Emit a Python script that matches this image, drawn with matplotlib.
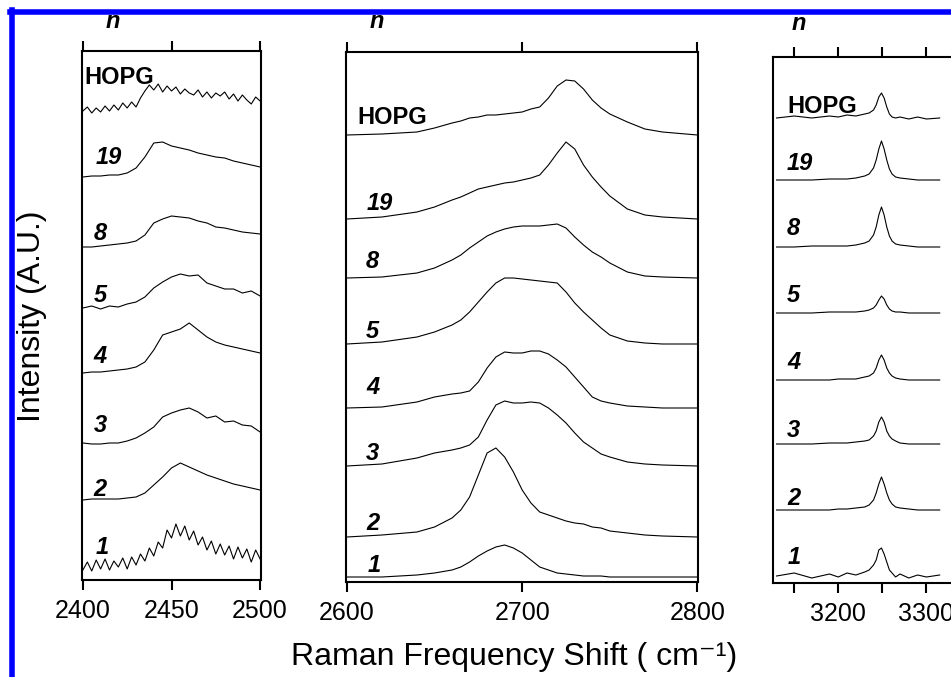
import numpy as np
import matplotlib
matplotlib.use("Agg")
import matplotlib.pyplot as plt
from matplotlib.lines import Line2D

plt.rcParams['font.family'] = ['Liberation Sans', 'DejaVu Sans']

W, H = 951, 677

# sample names, top to bottom
names = ['HOPG', '19', '8', '5', '4', '3', '2', '1']

# ---- panel 1 : 2400-2500 cm-1 ----
x1 = [2400, 2405, 2410, 2415, 2420, 2425, 2430, 2435, 2440, 2445, 2450,
      2455, 2460, 2465, 2470, 2475, 2480, 2485, 2490, 2495, 2500]
# the two noisiest traces are read on a finer step
x1_fine = [2400, 2402.5, 2405, 2407.5, 2410, 2412.5, 2415, 2417.5, 2420, 2422.5,
           2425, 2427.5, 2430, 2432.5, 2435, 2437.5, 2440, 2442.5, 2445, 2447.5,
           2450, 2452.5, 2455, 2457.5, 2460, 2462.5, 2465, 2467.5, 2470, 2472.5,
           2475, 2477.5, 2480, 2482.5, 2485, 2487.5, 2490, 2492.5, 2495, 2497.5, 2500]
p1 = {
    'HOPG': [4.89, 4.93, 4.87, 4.92, 4.88, 4.94, 4.89, 4.95, 4.90, 4.97, 4.92,
             4.98, 4.93, 5.02, 5.09, 5.15, 5.10, 5.16, 5.08, 5.14, 5.09, 5.13,
             5.06, 5.11, 5.07, 5.05, 5.10, 5.03, 5.08, 5.02, 5.07, 5.04, 5.08,
             5.01, 5.06, 4.99, 5.05, 5.00, 4.96, 5.03, 4.99],
    '19': [4.23, 4.24, 4.24, 4.25, 4.25, 4.27, 4.32, 4.43, 4.57, 4.58, 4.54,
           4.52, 4.50, 4.47, 4.45, 4.43, 4.42, 4.39, 4.37, 4.35, 4.33],
    '8': [3.53, 3.53, 3.54, 3.55, 3.56, 3.57, 3.59, 3.65, 3.77, 3.81, 3.84,
          3.83, 3.82, 3.79, 3.77, 3.73, 3.72, 3.70, 3.68, 3.67, 3.66],
    '5': [2.92, 2.94, 2.91, 2.94, 2.93, 2.96, 2.98, 3.03, 3.12, 3.18, 3.23,
          3.26, 3.24, 3.25, 3.17, 3.14, 3.11, 3.11, 3.07, 3.09, 3.04],
    '4': [2.27, 2.28, 2.28, 2.29, 2.30, 2.31, 2.33, 2.38, 2.50, 2.65, 2.68,
          2.71, 2.77, 2.70, 2.63, 2.58, 2.55, 2.53, 2.51, 2.49, 2.47],
    '3': [1.57, 1.56, 1.56, 1.57, 1.57, 1.59, 1.62, 1.67, 1.73, 1.83, 1.87,
          1.90, 1.92, 1.88, 1.82, 1.84, 1.78, 1.79, 1.75, 1.74, 1.68],
    '2': [1.00, 1.01, 1.01, 1.01, 1.01, 1.02, 1.03, 1.07, 1.15, 1.23, 1.32,
          1.37, 1.33, 1.29, 1.25, 1.22, 1.19, 1.16, 1.14, 1.12, 1.10],
    '1': [0.30, 0.38, 0.29, 0.40, 0.31, 0.41, 0.30, 0.39, 0.33, 0.42, 0.31,
          0.43, 0.35, 0.46, 0.39, 0.52, 0.44, 0.58, 0.52, 0.70, 0.62, 0.76,
          0.64, 0.74, 0.60, 0.69, 0.55, 0.63, 0.50, 0.59, 0.46, 0.56, 0.45,
          0.54, 0.41, 0.53, 0.42, 0.51, 0.38, 0.50, 0.41],
}
lab1_x = [2401, 2407, 2406, 2406, 2406, 2406, 2406, 2407]
lab1_y = [5.22, 4.43, 3.67, 3.05, 2.43, 1.74, 1.10, 0.53]

# ---- panel 2 : 2600-2800 cm-1 ----
x2 = [2600, 2620, 2640, 2650, 2660, 2665, 2670, 2675, 2680, 2685, 2690,
      2695, 2700, 2705, 2710, 2715, 2720, 2725, 2730, 2735, 2740, 2745,
      2750, 2760, 2770, 2780, 2800]
p2 = {
    'HOPG': [4.65, 4.66, 4.68, 4.72, 4.77, 4.79, 4.82, 4.83, 4.85, 4.85, 4.86,
             4.87, 4.88, 4.91, 4.93, 5.02, 5.14, 5.20, 5.19, 5.11, 5.00, 4.92,
             4.86, 4.78, 4.71, 4.68, 4.65],
    '19': [3.81, 3.83, 3.88, 3.93, 4.00, 4.03, 4.07, 4.11, 4.13, 4.15, 4.17,
           4.18, 4.20, 4.22, 4.25, 4.35, 4.47, 4.58, 4.51, 4.35, 4.23, 4.13,
           4.04, 3.91, 3.85, 3.83, 3.81],
    '8': [3.22, 3.23, 3.27, 3.32, 3.40, 3.45, 3.52, 3.58, 3.64, 3.68, 3.71,
          3.73, 3.74, 3.74, 3.74, 3.75, 3.76, 3.72, 3.63, 3.55, 3.48, 3.43,
          3.37, 3.28, 3.24, 3.23, 3.22],
    '5': [2.56, 2.58, 2.63, 2.68, 2.75, 2.80, 2.88, 2.98, 3.08, 3.17, 3.22,
          3.22, 3.21, 3.20, 3.19, 3.18, 3.17, 3.08, 2.97, 2.88, 2.80, 2.72,
          2.65, 2.59, 2.57, 2.56, 2.56],
    '4': [1.92, 1.93, 1.98, 2.03, 2.06, 2.07, 2.09, 2.18, 2.32, 2.43, 2.48,
          2.47, 2.47, 2.49, 2.49, 2.46, 2.40, 2.33, 2.23, 2.13, 2.03, 1.99,
          1.97, 1.94, 1.93, 1.92, 1.92],
    '3': [1.34, 1.36, 1.42, 1.47, 1.50, 1.52, 1.55, 1.63, 1.80, 1.95, 1.99,
          1.97, 1.97, 1.98, 1.97, 1.92, 1.85, 1.77, 1.67, 1.58, 1.52, 1.46,
          1.43, 1.38, 1.36, 1.35, 1.34],
    '2': [0.63, 0.65, 0.68, 0.73, 0.82, 0.90, 1.03, 1.25, 1.47, 1.52, 1.43,
          1.28, 1.10, 0.97, 0.88, 0.85, 0.82, 0.79, 0.77, 0.76, 0.73, 0.72,
          0.69, 0.67, 0.65, 0.64, 0.63],
    '1': [0.23, 0.23, 0.25, 0.27, 0.30, 0.33, 0.38, 0.44, 0.49, 0.53, 0.55,
          0.52, 0.47, 0.40, 0.33, 0.30, 0.27, 0.26, 0.25, 0.24, 0.24, 0.24,
          0.23, 0.23, 0.23, 0.23, 0.23],
}
lab2_x = [2606, 2611, 2611, 2611, 2611, 2611, 2611, 2612]
lab2_y = [4.82, 3.97, 3.38, 2.69, 2.12, 1.47, 0.77, 0.35]

# ---- panel 3 : ~3130-3315 cm-1 ----
x3 = [3130, 3150, 3170, 3190, 3200, 3210, 3220, 3230, 3235, 3240, 3243,
      3246, 3249, 3252, 3255, 3258, 3261, 3265, 3270, 3280, 3290, 3300, 3315]
p3 = {
    'HOPG': [4.82, 4.84, 4.82, 4.84, 4.83, 4.85, 4.84, 4.86, 4.87, 4.90, 4.95,
             5.03, 5.07, 5.02, 4.93, 4.86, 4.83, 4.82, 4.83, 4.81, 4.83, 4.81, 4.82],
    '19': [4.20, 4.20, 4.20, 4.21, 4.21, 4.21, 4.22, 4.24, 4.26, 4.32, 4.40,
           4.51, 4.59, 4.51, 4.40, 4.31, 4.26, 4.23, 4.22, 4.21, 4.20, 4.20, 4.20],
    '8': [3.53, 3.53, 3.54, 3.54, 3.54, 3.54, 3.55, 3.57, 3.59, 3.65, 3.73,
          3.85, 3.93, 3.85, 3.73, 3.64, 3.59, 3.56, 3.55, 3.54, 3.53, 3.53, 3.53],
    '5': [2.87, 2.87, 2.87, 2.88, 2.88, 2.88, 2.88, 2.89, 2.90, 2.92, 2.95,
          3.00, 3.04, 3.01, 2.95, 2.91, 2.89, 2.88, 2.88, 2.87, 2.87, 2.87, 2.87],
    '4': [2.20, 2.20, 2.20, 2.20, 2.21, 2.21, 2.21, 2.23, 2.24, 2.27, 2.32,
          2.40, 2.45, 2.40, 2.32, 2.27, 2.24, 2.22, 2.21, 2.20, 2.20, 2.20, 2.20],
    '3': [1.56, 1.56, 1.56, 1.57, 1.57, 1.57, 1.58, 1.59, 1.60, 1.64, 1.69,
          1.78, 1.83, 1.78, 1.69, 1.64, 1.61, 1.59, 1.57, 1.56, 1.56, 1.56, 1.56],
    '2': [0.90, 0.90, 0.90, 0.90, 0.91, 0.91, 0.92, 0.93, 0.95, 1.00, 1.07,
          1.16, 1.23, 1.16, 1.07, 1.00, 0.96, 0.93, 0.92, 0.91, 0.90, 0.90, 0.90],
    '1': [0.24, 0.27, 0.22, 0.26, 0.23, 0.27, 0.25, 0.28, 0.30, 0.35, 0.40,
          0.50, 0.52, 0.46, 0.38, 0.30, 0.27, 0.23, 0.26, 0.22, 0.25, 0.23, 0.25],
}
lab3_x = [3142, 3142, 3142, 3142, 3142, 3142, 3142, 3143]
lab3_y = [4.93, 4.36, 3.71, 3.04, 2.37, 1.69, 1.01, 0.43]

fig = plt.figure(figsize=(W / 100, H / 100), dpi=100)


def px_axes(left, right, top, bottom):
    # axes rectangle from pixel edges
    return fig.add_axes([left / W, 1 - bottom / H, (right - left) / W, (bottom - top) / H])


def setup(ax, xlim, ylim, ticks):
    ax.set_xlim(*xlim)
    ax.set_ylim(*ylim)
    ax.set_yticks([])
    ax.set_xticks(ticks)
    ax.tick_params(axis='x', which='both', direction='out', length=7, width=1.5,
                   top=True, labeltop=False, labelsize=18, pad=7)
    for s in ax.spines.values():
        s.set_linewidth(1.5)


panels = [
    (px_axes(82, 261, 51, 580), [x1, x1_fine], p1, lab1_x, lab1_y, (2399.5, 2500.5), (0.20, 5.49), [2400, 2450, 2500], None),
    (px_axes(346, 698, 52, 582), [x2], p2, lab2_x, lab2_y, (2599.5, 2800.3), (0.18, 5.48), [2600, 2700, 2800], None),
    (px_axes(773, 997, 57, 583), [x3], p3, lab3_x, lab3_y, (3126, 3380), (0.17, 5.43), [3150, 3200, 3250, 3300],
     ['', '3200', '', '3300']),
]

for ax, grids, prof, lx, ly, xlim, ylim, ticks, tl in panels:
    setup(ax, xlim, ylim, ticks)
    if tl is not None:
        ax.set_xticklabels(tl)
    for name in names:
        ys = prof[name]
        xs = [g for g in grids if len(g) == len(ys)][0]
        ax.plot(xs, ys, color='black', lw=0.8)
    for name, tx, ty in zip(names, lx, ly):
        if name == 'HOPG':
            ax.text(tx, ty, name, fontsize=17, fontweight='bold', ha='left', va='center')
        else:
            ax.text(tx, ty, name, fontsize=17, fontweight='bold', style='italic',
                    ha='left', va='center')

# "n" above each panel
for nx, ny in [(113, 22), (377, 22), (799, 24)]:
    fig.text(nx / W, 1 - ny / H, 'n', fontsize=17, fontweight='bold', style='italic',
             ha='center', va='center')

fig.text(32 / W, 1 - 316 / H, 'Intensity (A.U.)', fontsize=23, rotation=90,
         ha='center', va='center')
fig.text(514 / W, 1 - 657 / H, 'Raman Frequency Shift ( cm\u207b\u00b9)', fontsize=23,
         ha='center', va='center')

# blue frame
fig.add_artist(Line2D([10 / W, 1], [1 - 12 / H, 1 - 12 / H], transform=fig.transFigure,
                      color='#0000ff', lw=4))
fig.add_artist(Line2D([12 / W, 12 / W], [0, 1 - 10 / H], transform=fig.transFigure,
                      color='#0000ff', lw=4))

fig.savefig('out.png', dpi=100)
